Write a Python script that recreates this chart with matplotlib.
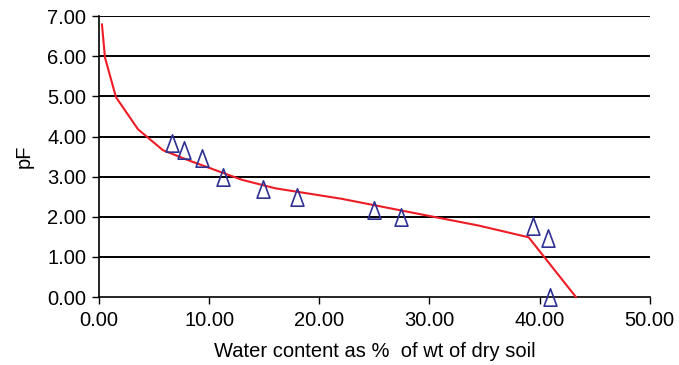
import matplotlib
matplotlib.use("Agg")
import matplotlib.pyplot as plt
from matplotlib.path import Path

plt.rcParams['font.family'] = ['Liberation Sans', 'DejaVu Sans']

# Measured data (triangles)
obs_x = [6.6, 7.7, 9.35, 11.3, 14.9, 18.0, 25.0, 27.4, 39.4, 40.8, 40.9]
obs_y = [3.83, 3.66, 3.46, 2.99, 2.69, 2.49, 2.16, 1.99, 1.77, 1.47, 0.0]

# Fitted curve (red line)
fit_x = [0.27, 0.54, 1.54, 3.54, 5.8, 8.0, 11.0, 13.0, 16.0, 22.0, 30.0, 34.5, 39.0, 43.3]
fit_y = [6.79, 5.97, 4.98, 4.18, 3.66, 3.42, 3.12, 2.92, 2.71, 2.45, 2.02, 1.78, 1.49, 0.0]

xticks = [0, 10, 20, 30, 40, 50]
yticks = [0, 1, 2, 3, 4, 5, 6, 7]

tri = Path([(-0.37, -0.5), (0.37, -0.5), (0.0, 0.5), (-0.37, -0.5)],
           [Path.MOVETO, Path.LINETO, Path.LINETO, Path.CLOSEPOLY])

fig = plt.figure(figsize=(6.79, 3.65), dpi=100)
ax = fig.add_axes([0.1458, 0.186, 0.957 - 0.1458, 0.956 - 0.186])

for yv in yticks[1:]:
    ax.axhline(yv, color='black', lw=1.4, zorder=1)

ax.plot(fit_x, fit_y, color='#ee1c25', lw=1.5, zorder=3, clip_on=False)
ax.plot(obs_x, obs_y, linestyle='none', marker=tri, markersize=12.5,
        markerfacecolor='none', markeredgecolor='#2e3192', markeredgewidth=1.2,
        zorder=4, clip_on=False)

ax.set_xlim(0, 50)
ax.set_ylim(0, 7)
ax.set_xticks(xticks)
ax.set_yticks(yticks)
ax.set_xticklabels([f"{v:.2f}" for v in xticks])
ax.set_yticklabels([f"{v:.2f}" for v in yticks])
ax.tick_params(axis='both', direction='out', length=5, width=1, labelsize=14.5, colors='black')
ax.tick_params(axis='x', pad=5)
ax.tick_params(axis='y', pad=4)

for s in ['top', 'right']:
    ax.spines[s].set_visible(False)
for s in ['left', 'bottom']:
    ax.spines[s].set_linewidth(1.2)
    ax.spines[s].set_color('black')

ax.set_xlabel('Water content as %  of wt of dry soil', fontsize=14.5, labelpad=9)
ax.set_ylabel('pF', fontsize=14.5, labelpad=10)

fig.savefig('out.png', dpi=100)
